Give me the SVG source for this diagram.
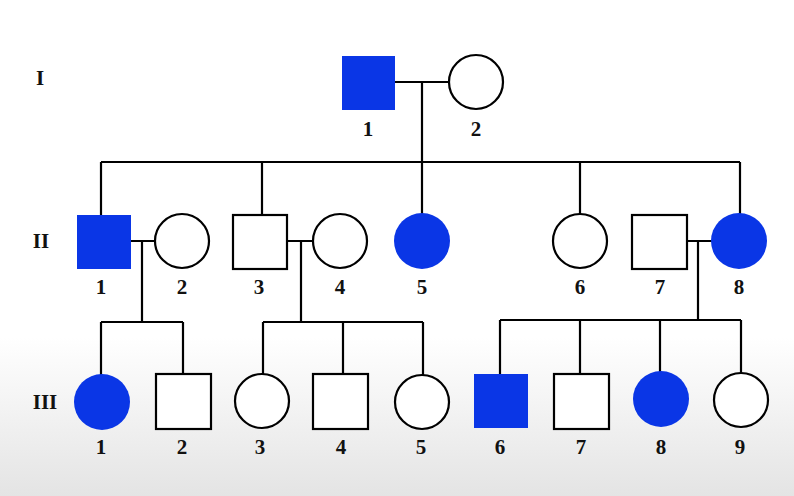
<svg xmlns="http://www.w3.org/2000/svg" width="794" height="496" viewBox="0 0 794 496">
<defs>
<linearGradient id="bg" x1="0" y1="0" x2="0" y2="1">
<stop offset="0" stop-color="#ffffff"/>
<stop offset="0.68" stop-color="#ffffff"/>
<stop offset="1" stop-color="#e4e4e4"/>
</linearGradient>
<style>
.u{fill:#fff;stroke:#000;stroke-width:2.2}
.a{fill:#0a36e6;stroke:none}
.ln{stroke:#000;stroke-width:2.2;fill:none}
text{font-family:"Liberation Serif","Times New Roman",serif;font-weight:bold;font-size:21px;fill:#111;text-anchor:middle}
</style>
</defs>
<rect x="0" y="0" width="794" height="496" fill="url(#bg)"/>
<g id="gen-labels">
<text x="40" y="85">I</text>
<text x="41" y="248">II</text>
<text x="45" y="409">III</text>
</g>
<g id="connectors" class="ln">
<path d="M395 82H449M422 82V162M101 162H740M101 162V215M262 162V215M422 162V214M580 162V214M740 162V214"/>
<path d="M131 241H155M142 241V322M101 322H183M101 322V375M183 322V374"/>
<path d="M287 241H313M301 241V322M263 322H423M263 322V374M343 322V374M423 322V375"/>
<path d="M687 241H712M698 241V320M500 320H741M500 320V374M580 320V374M660 320V372M741 320V373"/>
</g>
<g id="I-1"><rect class="a" x="342" y="56" width="53" height="54"/><text x="368" y="136">1</text></g>
<g id="I-2"><circle class="u" cx="476" cy="82" r="27"/><text x="476" y="136">2</text></g>
<g id="II-1"><rect class="a" x="77" y="215" width="54" height="54"/><text x="101" y="294">1</text></g>
<g id="II-2"><circle class="u" cx="182" cy="241" r="27"/><text x="182" y="294">2</text></g>
<g id="II-3"><rect class="u" x="233" y="215" width="54" height="54"/><text x="259" y="294">3</text></g>
<g id="II-4"><circle class="u" cx="340" cy="241" r="27"/><text x="340" y="294">4</text></g>
<g id="II-5"><circle class="a" cx="422" cy="241" r="28"/><text x="422" y="294">5</text></g>
<g id="II-6"><circle class="u" cx="580" cy="241" r="27"/><text x="580" y="294">6</text></g>
<g id="II-7"><rect class="u" x="632" y="215" width="55" height="54"/><text x="660" y="294">7</text></g>
<g id="II-8"><circle class="a" cx="739" cy="241" r="28"/><text x="739" y="294">8</text></g>
<g id="III-1"><circle class="a" cx="102" cy="402" r="28"/><text x="101" y="454">1</text></g>
<g id="III-2"><rect class="u" x="156" y="374" width="55" height="55"/><text x="182" y="454">2</text></g>
<g id="III-3"><circle class="u" cx="262" cy="401" r="27"/><text x="260" y="454">3</text></g>
<g id="III-4"><rect class="u" x="313" y="374" width="55" height="55"/><text x="341" y="454">4</text></g>
<g id="III-5"><circle class="u" cx="422" cy="402" r="27"/><text x="421" y="454">5</text></g>
<g id="III-6"><rect class="a" x="474" y="374" width="54" height="54"/><text x="500" y="454">6</text></g>
<g id="III-7"><rect class="u" x="554" y="374" width="55" height="55"/><text x="581" y="454">7</text></g>
<g id="III-8"><circle class="a" cx="661" cy="399" r="28"/><text x="661" y="454">8</text></g>
<g id="III-9"><circle class="u" cx="741" cy="400" r="27"/><text x="740" y="454">9</text></g>
</svg>
